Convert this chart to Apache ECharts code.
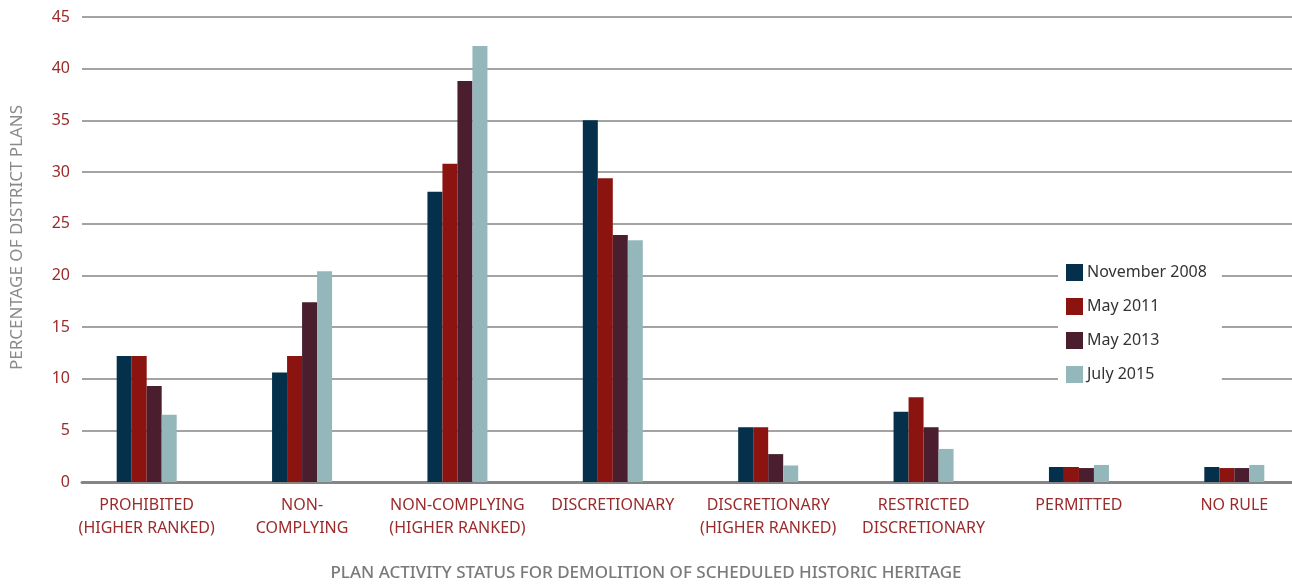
<!DOCTYPE html>
<html>
<head>
<meta charset="utf-8">
<style>
  html, body { margin: 0; padding: 0; background: #fff; }
  #main { width: 1292px; height: 585px; }
</style>
<script src="https://cdn.jsdelivr.net/npm/echarts@6/dist/echarts.min.js"></script>
</head>
<body>
<div id="main"></div>
<script>
  var categories = [
    'PROHIBITED\n(HIGHER RANKED)', 'NON-\nCOMPLYING', 'NON-COMPLYING\n(HIGHER RANKED)',
    'DISCRETIONARY', 'DISCRETIONARY\n(HIGHER RANKED)', 'RESTRICTED\nDISCRETIONARY',
    'PERMITTED', 'NO RULE'
  ];
  var seriesNames = ['November 2008', 'May 2011', 'May 2013', 'July 2015'];
  var nov2008 = [12.2, 10.6, 28.1, 35.0, 5.3, 6.8, 1.45, 1.45];
  var may2011 = [12.2, 12.2, 30.8, 29.4, 5.3, 8.2, 1.45, 1.35];
  var may2013 = [9.3, 17.4, 38.8, 23.9, 2.7, 5.3, 1.35, 1.35];
  var jul2015 = [6.5, 20.4, 42.2, 23.4, 1.6, 3.2, 1.65, 1.65];
  var colors = ['#04304c', '#8b1410', '#4a1e2e', '#94b7bb'];

  var font = '"Noto Sans", "Open Sans", sans-serif';
  var allData = [nov2008, may2011, may2013, jul2015];

  var chart = echarts.init(document.getElementById('main'));

  var series = allData.map(function (d, i) {
    return {
      name: seriesNames[i],
      type: 'bar',
      xAxisIndex: 1,
      yAxisIndex: 1,
      data: d,
      barWidth: 15,
      barGap: '0%',
      itemStyle: { color: colors[i] },
      z: 3
    };
  });

  chart.setOption({
    animation: false,
    textStyle: { fontFamily: font },
    title: {
      text: 'PLAN ACTIVITY STATUS FOR DEMOLITION OF SCHEDULED HISTORIC HERITAGE',
      left: 'center',
      top: 560,
      textStyle: { fontFamily: font, fontSize: 17, fontWeight: 500, color: '#7a7a7a' }
    },
    legend: {
      orient: 'vertical',
      left: 1058,
      top: 256,
      data: seriesNames,
      icon: 'rect',
      itemWidth: 17,
      itemHeight: 17,
      itemGap: 17,
      padding: [8, 15, 8, 8],
      backgroundColor: '#fff',
      textStyle: { fontFamily: font, fontSize: 16, color: '#333', padding: [0, 0, 0, -1] },
      z: 10
    },
    grid: [
      { left: 82, right: 0, top: 17, bottom: 103, outerBoundsMode: 'none' },
      { left: 69, width: 1243, top: 17, bottom: 103, outerBoundsMode: 'none' }
    ],
    xAxis: [
      {
        type: 'category',
        gridIndex: 0,
        data: categories,
        axisLine: { show: true, lineStyle: { color: '#858585', width: 3 } },
        axisTick: { show: false },
        axisLabel: { show: false }
      },
      {
        type: 'category',
        gridIndex: 1,
        data: categories,
        axisLine: { show: false },
        axisTick: { show: false },
        axisLabel: {
          margin: 12,
          fontFamily: font,
          fontSize: 16,
          lineHeight: 23,
          color: '#9b2a2a',
          interval: 0
        }
      }
    ],
    yAxis: [
      {
        type: 'value',
        gridIndex: 0,
        min: 0,
        max: 45,
        interval: 5,
        name: 'PERCENTAGE OF DISTRICT PLANS',
        nameLocation: 'middle',
        nameGap: 56,
        nameTextStyle: { fontFamily: font, fontSize: 17, color: '#8a8a8a', padding: [0, 0, 0, 24] },
        axisLine: { show: false },
        axisTick: { show: false },
        axisLabel: { margin: 12, fontFamily: font, fontSize: 16, color: '#9b2a2a' },
        splitLine: { lineStyle: { color: '#a3a3a3', width: 2 } }
      },
      {
        type: 'value',
        gridIndex: 1,
        min: 0,
        max: 45,
        interval: 5,
        show: false,
        splitLine: { show: false }
      }
    ],
    series: series
  });
</script>
</body>
</html>
